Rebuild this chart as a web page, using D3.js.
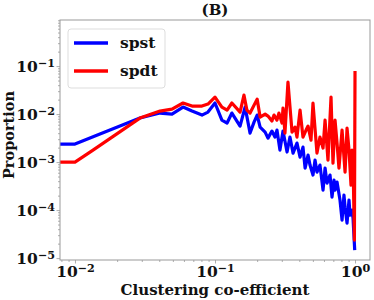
<!DOCTYPE html>
<html>
<head>
<meta charset="utf-8">
<script src="https://cdn.jsdelivr.net/npm/d3@7"></script>
<style>
  body { margin: 0; background: #fff; }
  text { font-family: "DejaVu Serif", serif; font-weight: bold; fill: #111; }
</style>
</head>
<body>
<script>
// spst series (blue)
let spstX = [0.00781, 0.01, 0.0291, 0.0405, 0.0493, 0.0591, 0.0685, 0.0807, 0.0891, 0.1,
  0.112, 0.122, 0.132, 0.151, 0.164, 0.178, 0.19, 0.2, 0.21, 0.228,
  0.239, 0.255, 0.268, 0.277, 0.291, 0.306, 0.327, 0.343, 0.361, 0.385,
  0.405, 0.425, 0.44, 0.462, 0.477, 0.501, 0.518, 0.535, 0.562, 0.591,
  0.611, 0.631, 0.663, 0.685, 0.708, 0.72, 0.744, 0.781, 0.808, 0.834,
  0.849, 0.877, 0.906, 0.921, 0.952, 0.968, 0.995];
let spstY = [0.00237, 0.00237, 0.00826, 0.0105, 0.01, 0.014, 0.01155, 0.00953, 0.011, 0.017,
  0.0075, 0.0065, 0.0105, 0.00562, 0.014, 0.00402, 0.00681, 0.00953, 0.00536, 0.00422,
  0.00316, 0.00443, 0.00332, 0.00464, 0.00178, 0.00443, 0.00162, 0.00332, 0.00154, 0.00249,
  0.00127, 0.00205, 0.00075, 0.0014, 0.000866, 0.000536, 0.0011, 0.000619, 0.000866, 0.000261,
  0.00075, 0.000365, 0.000536, 0.000187, 0.000422, 0.000261, 0.000383, 0.000162, 0.0000619, 0.000205,
  0.000115, 0.0000536, 0.000162, 0.0000787, 0.0001, 0.0000681, 0.0000147];

// spdt series (red)
let spdtX = [0.00781, 0.01, 0.01345, 0.0291, 0.0405, 0.0493, 0.0591, 0.0685, 0.0807, 0.0891,
  0.1, 0.112, 0.122, 0.132, 0.151, 0.161, 0.169, 0.178, 0.2, 0.21,
  0.228, 0.239, 0.255, 0.264, 0.277, 0.286, 0.301, 0.306, 0.316, 0.332,
  0.355, 0.373, 0.385, 0.405, 0.425, 0.447, 0.462, 0.485, 0.501, 0.535,
  0.562, 0.591, 0.611, 0.641, 0.674, 0.696, 0.72, 0.744, 0.768, 0.808,
  0.849, 0.877, 0.906, 0.936, 0.952, 0.968, 0.99, 1.0];
let spdtY = [0.001, 0.001, 0.00178, 0.00826, 0.01155, 0.0127, 0.017, 0.0147, 0.0147, 0.0162,
  0.0226, 0.014, 0.0121, 0.017, 0.011, 0.0249, 0.0121, 0.0105, 0.0205, 0.00866,
  0.01, 0.00908, 0.00715, 0.00953, 0.0075, 0.0105, 0.0065, 0.0133, 0.00402, 0.0464,
  0.00422, 0.00536, 0.00332, 0.0121, 0.00332, 0.00464, 0.00562, 0.00287, 0.017, 0.00154,
  0.00332, 0.00196, 0.0075, 0.0011, 0.0226, 0.000953, 0.0075, 0.00249, 0.00075, 0.00464,
  0.000619, 0.00511, 0.00178, 0.000332, 0.00178, 0.0011, 0.0000237, 0.0787];

let seriesNames = ["spst", "spdt"];
let seriesColors = ["#0000ff", "#ff0000"];
let xTicks = [0.01, 0.1, 1];
let yTicks = [1e-5, 1e-4, 1e-3, 1e-2, 1e-1];

let w = 374, h = 300;
let margin = {top: 20, right: 4, bottom: 40, left: 60};

let svg = d3.select("body").append("svg").attr("width", w).attr("height", h);

let xScale = d3.scaleLog()
  .domain([Math.pow(10, -2.107), Math.pow(10, 0.107)])
  .range([margin.left, w - margin.right]);
let yScale = d3.scaleLog()
  .domain([Math.pow(10, -5.04), Math.pow(10, -0.04)])
  .range([h - margin.bottom, margin.top]);

// minor ticks
function minorTicks(scale) {
  let d = scale.domain();
  let out = [];
  for (let e = Math.floor(Math.log10(d[0])); e <= Math.ceil(Math.log10(d[1])); e++) {
    for (let m = 2; m < 10; m++) {
      let v = m * Math.pow(10, e);
      if (v >= d[0] && v <= d[1]) out.push(v);
    }
  }
  return out;
}

function supLabel(sel, d) {
  let exp = Math.round(Math.log10(d));
  sel.text(null);
  sel.append("tspan").text("10");
  sel.append("tspan").attr("dy", "-0.45em").attr("font-size", "0.72em")
    .text(exp < 0 ? "\u2212" + (-exp) : exp);
}

let xMinor = svg.append("g")
  .attr("transform", "translate(0," + (h - margin.bottom) + ")")
  .call(d3.axisBottom(xScale).tickValues(minorTicks(xScale)).tickSize(2).tickFormat(""));
let yMinor = svg.append("g")
  .attr("transform", "translate(" + margin.left + ",0)")
  .call(d3.axisLeft(yScale).tickValues(minorTicks(yScale)).tickSize(2).tickFormat(""));

let xAxis = svg.append("g")
  .attr("transform", "translate(0," + (h - margin.bottom) + ")")
  .call(d3.axisBottom(xScale).tickValues(xTicks).tickSize(3.5).tickPadding(2));
let yAxis = svg.append("g")
  .attr("transform", "translate(" + margin.left + ",0)")
  .call(d3.axisLeft(yScale).tickValues(yTicks).tickSize(3.5).tickPadding(1.5));

[xMinor, yMinor, xAxis, yAxis].forEach(function (g) {
  g.select(".domain").remove();
  g.selectAll(".tick line").attr("stroke", "#999").attr("stroke-width", 0.8);
});

xAxis.selectAll(".tick text")
  .attr("font-size", "15.5px")
  .attr("font-family", "DejaVu Serif")
  .attr("font-weight", "bold")
  .attr("fill", "#111")
  .attr("dy", "0.72em")
  .each(function (d) { supLabel(d3.select(this), d); });

yAxis.selectAll(".tick text")
  .attr("font-size", "15.5px")
  .attr("font-family", "DejaVu Serif")
  .attr("font-weight", "bold")
  .attr("fill", "#111")
  .attr("dy", "0.38em")
  .each(function (d) { supLabel(d3.select(this), d); });

// lines
let line = d3.line()
  .x(function (d) { return xScale(d[0]); })
  .y(function (d) { return yScale(d[1]); });

let allSeries = [d3.zip(spstX, spstY), d3.zip(spdtX, spdtY)];

svg.append("defs").append("clipPath").attr("id", "clip")
  .append("rect")
  .attr("x", margin.left).attr("y", margin.top)
  .attr("width", w - margin.left - margin.right)
  .attr("height", h - margin.top - margin.bottom);

svg.append("g").attr("clip-path", "url(#clip)")
  .selectAll("path")
  .data(allSeries)
  .enter()
  .append("path")
  .attr("d", line)
  .attr("fill", "none")
  .attr("stroke", function (d, i) { return seriesColors[i]; })
  .attr("stroke-width", 3.2)
  .attr("stroke-linejoin", "round");

// frame
svg.append("rect")
  .attr("x", margin.left).attr("y", margin.top)
  .attr("width", w - margin.left - margin.right)
  .attr("height", h - margin.top - margin.bottom)
  .attr("fill", "none")
  .attr("stroke", "#999")
  .attr("stroke-width", 1);

// legend
let legend = svg.append("g").attr("transform", "translate(68,29)");
legend.append("rect")
  .attr("width", 97).attr("height", 59)
  .attr("rx", 3)
  .attr("fill", "#fff")
  .attr("fill-opacity", 0.8)
  .attr("stroke", "#ddd");
seriesNames.forEach(function (name, i) {
  legend.append("line")
    .attr("x1", 6).attr("x2", 40)
    .attr("y1", 14 + i * 28).attr("y2", 14 + i * 28)
    .attr("stroke", seriesColors[i])
    .attr("stroke-width", 3.5);
  legend.append("text")
    .attr("x", 52).attr("y", 14 + i * 28)
    .attr("dy", "0.32em")
    .attr("font-size", "15.5px")
    .text(name);
});

// titles
svg.append("text")
  .attr("x", (margin.left + w - margin.right) / 2)
  .attr("y", 15)
  .attr("text-anchor", "middle")
  .attr("font-size", "15px")
  .text("(B)");

svg.append("text")
  .attr("x", (margin.left + w - margin.right) / 2)
  .attr("y", 295)
  .attr("text-anchor", "middle")
  .attr("font-size", "15px")
  .text("Clustering co-efficient");

svg.append("text")
  .attr("transform", "translate(14," + 135 + ") rotate(-90)")
  .attr("text-anchor", "middle")
  .attr("font-size", "14.5px")
  .text("Proportion");
</script>
</body>
</html>
